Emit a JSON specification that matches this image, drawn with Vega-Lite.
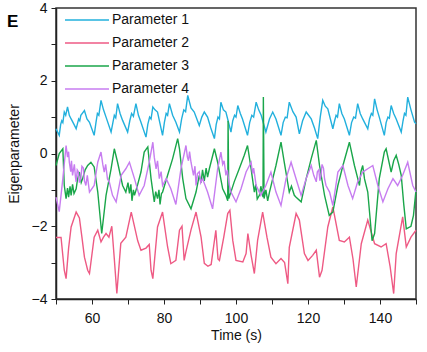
{
  "$schema": "https://vega.github.io/schema/vega-lite/v6.json",
  "width": 360,
  "height": 291,
  "autosize": {"type": "none"},
  "padding": {"left": 56, "top": 8, "right": 11, "bottom": 53},
  "background": "white",
  "title": {"text": "E", "anchor": "start", "frame": "group", "fontSize": 17, "fontWeight": "bold", "font": "Liberation Sans", "color": "#000", "dx": -49, "dy": 30, "offset": 0},
  "config": {
    "view": {"stroke": "#333", "strokeWidth": 1.5},
    "font": "Liberation Sans",
    "line": {"strokeWidth": 1.4, "clip": true}
  },
  "encoding": {
    "x": {"field": "t", "type": "quantitative", "scale": {"domain": [50, 150], "nice": false, "zero": false},
      "axis": {"values": [50,60,70,80,90,100,110,120,130,140,150], "labelExpr": "datum.value % 20 == 0 && datum.value > 50 && datum.value < 150 ? datum.label : ''", "title": "Time (s)", "grid": false, "tickSize": 5, "tickColor": "#222", "domainColor": "#222", "domainWidth": 1.5, "labelFontSize": 14, "labelColor": "#111", "labelPadding": 7, "titleFontSize": 14, "titleFontWeight": "normal", "titleColor": "#111", "titlePadding": 3}},
    "y": {"field": "v", "type": "quantitative", "scale": {"domain": [-4, 4], "nice": false},
      "axis": {"values": [-4,-3,-2,-1,0,1,2,3,4], "labelExpr": "datum.value % 2 == 0 ? datum.label : ''", "title": "Eigenparameter", "grid": false, "tickSize": 5, "tickColor": "#222", "domainColor": "#222", "domainWidth": 1.5, "labelFontSize": 14, "labelColor": "#111", "labelPadding": 4, "titleFontSize": 14, "titleFontWeight": "normal", "titleColor": "#111", "titlePadding": 10}}
  },
  "layer": [
    {
      "data": {"values": [
        {"t":50,"v":0.68},{"t":50.9,"v":0.5},{"t":51.3,"v":0.8},{"t":51.6,"v":0.9},{"t":51.9,"v":0.85},{"t":52.3,"v":1.14},{"t":52.7,"v":1.05},{"t":53.2,"v":1.28},{"t":53.7,"v":1.05},{"t":54.2,"v":0.95},{"t":55.0,"v":0.8},{"t":55.6,"v":0.68},{"t":56.3,"v":0.95},{"t":56.6,"v":0.9},{"t":56.9,"v":1.05},{"t":57.9,"v":1.18},{"t":58.6,"v":0.95},{"t":59.3,"v":0.86},{"t":60.6,"v":0.5},{"t":61.1,"v":0.85},{"t":61.5,"v":1.1},{"t":61.9,"v":1.05},{"t":62.5,"v":1.46},{"t":63.2,"v":1.2},{"t":63.9,"v":1.0},{"t":65.3,"v":0.59},{"t":65.8,"v":0.85},{"t":66.2,"v":1.05},{"t":66.6,"v":0.98},{"t":67.1,"v":1.37},{"t":67.8,"v":1.1},{"t":68.5,"v":0.91},{"t":69.9,"v":0.59},{"t":70.5,"v":0.9},{"t":71.0,"v":1.1},{"t":71.5,"v":1.02},{"t":72.2,"v":1.37},{"t":72.9,"v":1.05},{"t":73.6,"v":0.86},{"t":75,"v":0.45},{"t":75.5,"v":0.8},{"t":76.0,"v":1.0},{"t":76.4,"v":0.95},{"t":76.9,"v":1.28},{"t":77.5,"v":1.2},{"t":78.2,"v":1.14},{"t":79.6,"v":0.5},{"t":80.1,"v":0.85},{"t":80.6,"v":1.1},{"t":81.0,"v":1.05},{"t":81.5,"v":1.37},{"t":82.4,"v":1.05},{"t":83.3,"v":0.86},{"t":84.3,"v":0.59},{"t":84.9,"v":0.95},{"t":85.5,"v":1.2},{"t":86.0,"v":1.15},{"t":86.6,"v":1.6},{"t":87.5,"v":1.25},{"t":88.4,"v":1.14},{"t":89.8,"v":0.77},{"t":90.5,"v":1.0},{"t":91.2,"v":1.14},{"t":92.1,"v":1.0},{"t":93.0,"v":0.7},{"t":94,"v":0.41},{"t":94.5,"v":0.8},{"t":95.0,"v":1.0},{"t":95.4,"v":0.95},{"t":95.8,"v":1.41},{"t":96.5,"v":1.2},{"t":97.2,"v":1.14},{"t":98.6,"v":0.59},{"t":99.1,"v":0.9},{"t":99.6,"v":1.05},{"t":100.0,"v":1.0},{"t":100.5,"v":1.32},{"t":101.2,"v":1.1},{"t":101.8,"v":0.95},{"t":103.2,"v":0.5},{"t":103.8,"v":0.85},{"t":104.4,"v":1.05},{"t":104.9,"v":1.0},{"t":105.6,"v":1.41},{"t":106.3,"v":1.2},{"t":107,"v":1.05},{"t":108.3,"v":0.59},{"t":109.3,"v":0.95},{"t":110.2,"v":1.14},{"t":111.1,"v":0.95},{"t":112.5,"v":0.5},{"t":113.1,"v":0.85},{"t":113.7,"v":1.0},{"t":114.2,"v":0.98},{"t":114.8,"v":1.41},{"t":115.8,"v":1.15},{"t":116.7,"v":1.0},{"t":117.6,"v":0.54},{"t":118.5,"v":0.9},{"t":119.5,"v":1.14},{"t":120.9,"v":0.95},{"t":121.8,"v":0.7},{"t":122.7,"v":0.41},{"t":123.4,"v":1.0},{"t":124.1,"v":1.46},{"t":124.8,"v":1.3},{"t":125.5,"v":1.23},{"t":126.9,"v":0.68},{"t":127.4,"v":0.9},{"t":127.8,"v":1.05},{"t":128.2,"v":1.0},{"t":128.7,"v":1.37},{"t":129.4,"v":1.1},{"t":130.1,"v":0.95},{"t":131.5,"v":0.5},{"t":132.1,"v":0.85},{"t":132.7,"v":1.0},{"t":133.2,"v":0.97},{"t":133.8,"v":1.37},{"t":134.5,"v":1.1},{"t":135.2,"v":0.95},{"t":136.6,"v":0.68},{"t":137.1,"v":0.95},{"t":137.6,"v":1.1},{"t":138.0,"v":1.05},{"t":138.5,"v":1.5},{"t":139.2,"v":1.2},{"t":139.8,"v":1.0},{"t":141.2,"v":0.5},{"t":141.7,"v":0.85},{"t":142.2,"v":1.0},{"t":142.6,"v":0.97},{"t":143.1,"v":1.32},{"t":143.8,"v":1.1},{"t":144.5,"v":0.95},{"t":145.9,"v":0.59},{"t":146.4,"v":0.9},{"t":146.8,"v":1.1},{"t":147.2,"v":1.05},{"t":147.7,"v":1.55},{"t":148.6,"v":1.2},{"t":149.6,"v":0.86},{"t":150,"v":0.82}
      ]},
      "mark": {"type": "line"},
      "encoding": {"color": {"datum": "Parameter 1", "type": "nominal",
        "scale": {"domain": ["Parameter 1","Parameter 2","Parameter 3","Parameter 4"], "range": ["#22b0dd","#ee5a84","#1aa64a","#c77df0"]},
        "legend": {"title": null, "orient": "none", "legendX": 24, "legendY": 5, "padding": 0, "symbolType": "M-4.4,0H4.4", "symbolSize": 100, "symbolStrokeWidth": 1.5, "labelFontSize": 14, "labelColor": "#111", "rowPadding": 9, "labelOffset": 18}}}
    },
    {
      "data": {"values": [
        {"t":50,"v":-2.31},{"t":51.4,"v":-2.31},{"t":52.3,"v":-3.21},{"t":52.8,"v":-3.44},{"t":53.5,"v":-2.6},{"t":54.2,"v":-2.02},{"t":55.6,"v":-1.61},{"t":56.5,"v":-1.77},{"t":57.2,"v":-2.3},{"t":57.9,"v":-2.85},{"t":58.8,"v":-3.21},{"t":59.3,"v":-3.3},{"t":60.6,"v":-2.3},{"t":61.6,"v":-2.11},{"t":62.5,"v":-2.43},{"t":63.2,"v":-2.3},{"t":63.9,"v":-2.2},{"t":64.7,"v":-2.3},{"t":65.5,"v":-2.0},{"t":66.2,"v":-2.9},{"t":66.9,"v":-3.85},{"t":68,"v":-2.47},{"t":69.4,"v":-2.3},{"t":70.9,"v":-1.61},{"t":72.7,"v":-2.4},{"t":73.6,"v":-2.66},{"t":75,"v":-2.6},{"t":75.9,"v":-2.5},{"t":76.4,"v":-3.21},{"t":76.9,"v":-3.44},{"t":78.2,"v":-2.02},{"t":79.6,"v":-1.61},{"t":81,"v":-2.57},{"t":81.9,"v":-3.03},{"t":83.3,"v":-2.94},{"t":84.3,"v":-2.11},{"t":85,"v":-2.0},{"t":85.6,"v":-2.94},{"t":86.1,"v":-2.7},{"t":87.5,"v":-2.1},{"t":88.9,"v":-1.61},{"t":90.3,"v":-2.3},{"t":91.2,"v":-3.02},{"t":92.2,"v":-3.1},{"t":93.1,"v":-3.05},{"t":94.4,"v":-2.11},{"t":95,"v":-2.9},{"t":95.4,"v":-2.94},{"t":96.6,"v":-2.3},{"t":97.7,"v":-1.65},{"t":98.3,"v":-1.56},{"t":99.1,"v":-2.39},{"t":100,"v":-2.94},{"t":101.9,"v":-2.98},{"t":102.8,"v":-2.75},{"t":103.3,"v":-2.2},{"t":104.2,"v":-2.8},{"t":105.1,"v":-3.3},{"t":106,"v":-2.39},{"t":107.4,"v":-1.61},{"t":108.6,"v":-2.3},{"t":109.7,"v":-2.85},{"t":111.1,"v":-3.03},{"t":112.5,"v":-2.89},{"t":113.5,"v":-3.0},{"t":114.4,"v":-3.58},{"t":114.8,"v":-2.58},{"t":116.7,"v":-1.65},{"t":117.6,"v":-1.83},{"t":119,"v":-2.75},{"t":120,"v":-2.94},{"t":121.3,"v":-2.8},{"t":122.3,"v":-2.66},{"t":123.2,"v":-3.4},{"t":123.9,"v":-3.21},{"t":125.5,"v":-2.02},{"t":126.9,"v":-1.47},{"t":128.7,"v":-2.39},{"t":130.1,"v":-2.43},{"t":131.5,"v":-2.3},{"t":132.5,"v":-2.9},{"t":133.4,"v":-3.67},{"t":134.8,"v":-2.48},{"t":136.6,"v":-1.83},{"t":138.5,"v":-2.48},{"t":140.3,"v":-2.57},{"t":141.7,"v":-2.48},{"t":142.8,"v":-3.1},{"t":143.8,"v":-3.85},{"t":144.5,"v":-2.75},{"t":146.3,"v":-1.74},{"t":147.3,"v":-2.57},{"t":148.6,"v":-2.3},{"t":150,"v":-2.11}
      ]},
      "mark": {"type": "line"},
      "encoding": {"color": {"datum": "Parameter 2", "type": "nominal"}}
    },
    {
      "data": {"values": [
        {"t":50,"v":-0.33},{"t":50.9,"v":0.0},{"t":51.9,"v":0.13},{"t":52.3,"v":-0.88},{"t":52.8,"v":-1.24},{"t":53.2,"v":-0.95},{"t":53.5,"v":-1.2},{"t":53.9,"v":-0.9},{"t":54.2,"v":-1.15},{"t":54.6,"v":-0.85},{"t":55.0,"v":-1.1},{"t":55.6,"v":-0.97},{"t":56.0,"v":-0.7},{"t":56.5,"v":-0.51},{"t":57.0,"v":-0.8},{"t":57.4,"v":-0.69},{"t":58.1,"v":-0.45},{"t":58.8,"v":-0.33},{"t":59.7,"v":-0.24},{"t":60.6,"v":-0.37},{"t":61.6,"v":-1.06},{"t":62.7,"v":-2.2},{"t":63.9,"v":-1.15},{"t":65.3,"v":-0.42},{"t":66.2,"v":0.13},{"t":67.1,"v":-0.24},{"t":68.5,"v":-0.88},{"t":69.4,"v":-1.06},{"t":70.0,"v":-0.8},{"t":70.4,"v":-1.1},{"t":70.8,"v":-0.85},{"t":71.1,"v":-1.3},{"t":71.5,"v":-1.0},{"t":71.8,"v":-1.15},{"t":72.7,"v":-0.85},{"t":73.6,"v":-0.51},{"t":74.5,"v":0.04},{"t":75.5,"v":0.18},{"t":76.4,"v":-0.69},{"t":77.3,"v":-1.33},{"t":77.7,"v":-1.05},{"t":78.2,"v":-1.24},{"t":78.6,"v":-1.0},{"t":78.9,"v":-1.4},{"t":79.3,"v":-1.1},{"t":79.6,"v":-1.06},{"t":81,"v":-0.6},{"t":82.4,"v":-0.14},{"t":83.8,"v":0.41},{"t":84.3,"v":0.13},{"t":85.2,"v":-0.69},{"t":86.1,"v":-1.24},{"t":87.5,"v":-1.52},{"t":88.9,"v":-1.06},{"t":89.8,"v":-0.6},{"t":90.3,"v":-0.8},{"t":90.7,"v":-0.45},{"t":91.2,"v":-0.75},{"t":91.7,"v":-0.4},{"t":92.1,"v":-0.65},{"t":92.6,"v":-0.42},{"t":94,"v":0.13},{"t":94.9,"v":-0.24},{"t":96.3,"v":-0.97},{"t":97.2,"v":-1.15},{"t":97.7,"v":-1.3},{"t":97.8,"v":0.9},{"t":98.0,"v":-1.24},{"t":99.5,"v":-0.78},{"t":100.9,"v":-0.42},{"t":102.3,"v":-0.05},{"t":103.2,"v":0.22},{"t":104.2,"v":-0.42},{"t":105.1,"v":-1.06},{"t":105.5,"v":-0.85},{"t":105.9,"v":-1.25},{"t":106.5,"v":-1.15},{"t":106.9,"v":-0.9},{"t":107.5,"v":-1.2},{"t":107.6,"v":1.55},{"t":107.8,"v":-1.24},{"t":108.3,"v":-1.0},{"t":108.8,"v":-1.3},{"t":109.3,"v":-1.06},{"t":111.1,"v":-0.33},{"t":112.5,"v":0.31},{"t":113.4,"v":-0.24},{"t":114.8,"v":-1.06},{"t":115.4,"v":-0.9},{"t":116.2,"v":-1.15},{"t":116.7,"v":-1.2},{"t":118.1,"v":-1.33},{"t":119.5,"v":-0.69},{"t":120.9,"v":-0.14},{"t":122.3,"v":0.36},{"t":123.2,"v":-0.33},{"t":124.6,"v":-1.15},{"t":125.9,"v":-1.7},{"t":126.9,"v":-1.61},{"t":128.3,"v":-0.88},{"t":129.7,"v":-0.33},{"t":131.5,"v":0.31},{"t":132.9,"v":-0.33},{"t":133.6,"v":-0.6},{"t":134.3,"v":-0.88},{"t":134.7,"v":-0.5},{"t":135.2,"v":-0.33},{"t":135.7,"v":-0.7},{"t":136.6,"v":-1.06},{"t":137.8,"v":-2.4},{"t":138.5,"v":-2.2},{"t":139.8,"v":-0.69},{"t":141.2,"v":0.04},{"t":141.7,"v":0.13},{"t":143.1,"v":-0.51},{"t":143.8,"v":-0.2},{"t":144.5,"v":-0.05},{"t":145.2,"v":-0.3},{"t":145.9,"v":-0.6},{"t":146.6,"v":-1.4},{"t":147.3,"v":-2.07},{"t":148.6,"v":-2.0},{"t":149.3,"v":-1.7},{"t":150,"v":-1.0}
      ]},
      "mark": {"type": "line"},
      "encoding": {"color": {"datum": "Parameter 3", "type": "nominal"}}
    },
    {
      "data": {"values": [
        {"t":50,"v":-1.2},{"t":50.9,"v":-1.6},{"t":51.9,"v":-0.69},{"t":52.8,"v":0.22},{"t":53.2,"v":-0.1},{"t":53.5,"v":0.05},{"t":53.7,"v":-0.24},{"t":54.1,"v":-0.5},{"t":54.3,"v":-0.2},{"t":54.6,"v":-0.6},{"t":55.1,"v":-0.3},{"t":55.4,"v":-0.65},{"t":55.6,"v":-0.78},{"t":55.9,"v":-0.45},{"t":56.2,"v":-0.5},{"t":56.5,"v":-0.8},{"t":56.9,"v":-0.69},{"t":57.2,"v":-0.35},{"t":57.6,"v":-0.4},{"t":57.9,"v":-0.75},{"t":58.3,"v":-0.88},{"t":58.7,"v":-0.6},{"t":59.3,"v":-1.06},{"t":60.6,"v":-0.88},{"t":61.6,"v":-0.24},{"t":62.5,"v":0.04},{"t":63.0,"v":-0.3},{"t":63.4,"v":-0.51},{"t":63.8,"v":-0.3},{"t":64.3,"v":-0.7},{"t":64.8,"v":-0.78},{"t":65.7,"v":-1.15},{"t":66.7,"v":-1.33},{"t":68.1,"v":-0.6},{"t":69.4,"v":-0.42},{"t":70.4,"v":-0.24},{"t":71.8,"v":-0.69},{"t":73.1,"v":-1.15},{"t":74.5,"v":-0.88},{"t":75.9,"v":-0.24},{"t":76.9,"v":0.31},{"t":77.3,"v":-0.1},{"t":77.8,"v":-0.42},{"t":78.2,"v":-0.2},{"t":78.7,"v":-0.69},{"t":79.2,"v":-0.5},{"t":79.6,"v":-0.88},{"t":80.6,"v":-0.69},{"t":81.9,"v":-0.97},{"t":83.3,"v":-1.4},{"t":84.7,"v":-0.42},{"t":86.1,"v":0.22},{"t":86.5,"v":-0.1},{"t":86.8,"v":-0.2},{"t":87.1,"v":0.05},{"t":87.5,"v":-0.24},{"t":87.9,"v":-0.45},{"t":88.2,"v":-0.6},{"t":88.6,"v":-0.35},{"t":88.9,"v":-0.88},{"t":89.3,"v":-0.55},{"t":89.8,"v":-0.5},{"t":90.2,"v":-0.8},{"t":90.7,"v":-0.69},{"t":92.1,"v":-1.06},{"t":93.5,"v":-1.52},{"t":94.9,"v":-0.42},{"t":95.8,"v":0.04},{"t":96.3,"v":-0.3},{"t":96.7,"v":-0.2},{"t":97.2,"v":-0.6},{"t":97.6,"v":-0.45},{"t":98.1,"v":-0.85},{"t":98.6,"v":-1.06},{"t":100,"v":-1.33},{"t":101.4,"v":-0.97},{"t":102.8,"v":-0.51},{"t":104.2,"v":-0.24},{"t":104.6,"v":-0.55},{"t":104.9,"v":-0.4},{"t":105.6,"v":-0.88},{"t":106.9,"v":-1.15},{"t":108.3,"v":-0.88},{"t":109.7,"v":-0.51},{"t":111.1,"v":-1.06},{"t":112.5,"v":-1.43},{"t":113.9,"v":-0.69},{"t":115.3,"v":-0.24},{"t":116.7,"v":-0.7},{"t":118.1,"v":-1.15},{"t":119.5,"v":-0.69},{"t":120.9,"v":-0.33},{"t":121.6,"v":-0.6},{"t":122.3,"v":-0.78},{"t":122.6,"v":-0.5},{"t":123.0,"v":-0.45},{"t":123.3,"v":-0.75},{"t":123.6,"v":-0.6},{"t":123.9,"v":-0.3},{"t":124.3,"v":-0.4},{"t":124.6,"v":-0.7},{"t":125,"v":-0.88},{"t":126,"v":-1.06},{"t":126.9,"v":-1.43},{"t":128.3,"v":-0.51},{"t":129.7,"v":-0.33},{"t":131.1,"v":-0.88},{"t":132.4,"v":-1.24},{"t":133.8,"v":-0.78},{"t":135.2,"v":-0.51},{"t":136.6,"v":-0.42},{"t":138,"v":-0.33},{"t":139.4,"v":-0.88},{"t":140.8,"v":-1.33},{"t":142.2,"v":-0.97},{"t":143.6,"v":-0.69},{"t":144.9,"v":-0.88},{"t":146.3,"v":-0.6},{"t":147.7,"v":-0.24},{"t":149.1,"v":-0.88},{"t":150,"v":-1.06}
      ]},
      "mark": {"type": "line"},
      "encoding": {"color": {"datum": "Parameter 4", "type": "nominal"}}
    }
  ],
  "resolve": {"scale": {"color": "shared"}}
}
